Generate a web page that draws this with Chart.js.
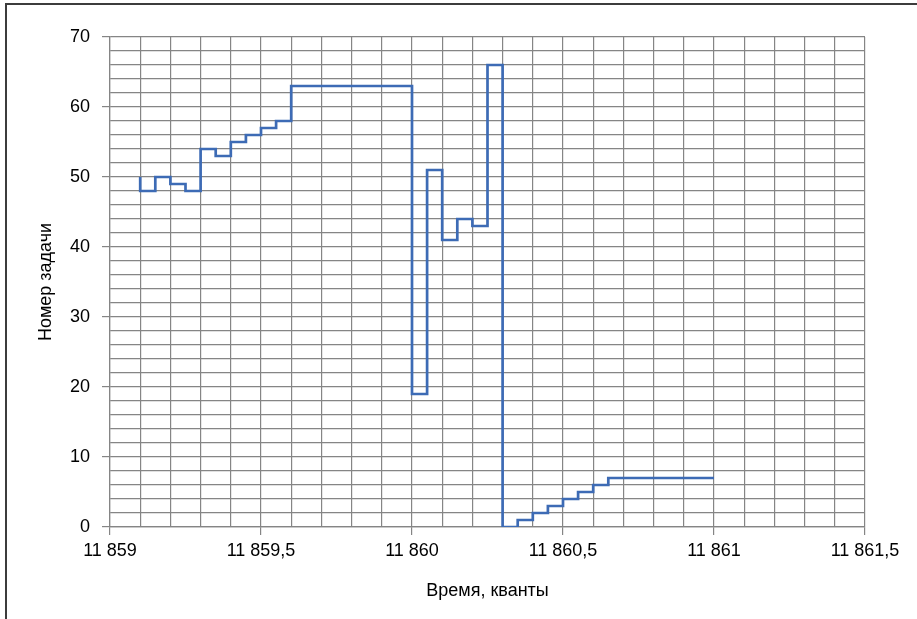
<!DOCTYPE html>
<html>
<head>
<meta charset="utf-8">
<script src="https://cdn.jsdelivr.net/npm/chart.js@4/dist/chart.umd.min.js"></script>
<style>
  html, body { margin: 0; padding: 0; background: #ffffff; }
  #wrap { position: relative; width: 917px; height: 619px; }
</style>
</head>
<body>
<div id="wrap"><canvas id="c" width="917" height="619"></canvas></div>
<script>
// Time (end of each interval, quanta) and task number held during that interval
const times = [11859.1, 11859.15, 11859.2, 11859.25, 11859.3, 11859.35, 11859.4, 11859.45,
               11859.5, 11859.55, 11859.6, 11860.0, 11860.05, 11860.1, 11860.15, 11860.2,
               11860.25, 11860.3, 11860.35, 11860.4, 11860.45, 11860.5, 11860.55, 11860.6,
               11860.65, 11861.0];
const taskNo = [50, 48, 50, 49, 48, 54, 53, 55, 56, 57, 58, 63, 19, 51, 41, 44, 43, 66,
                0, 1, 2, 3, 4, 5, 6, 7];

const xMin = 11859, xMax = 11861.5, xStep = 0.1, xMajor = 0.5;
const yMin = 0, yMax = 70, yStep = 2, yMajor = 10;
const xTitle = 'Время, кванты';
const yTitle = 'Номер задачи';

const FONT = "'Liberation Sans', Arial, sans-serif";
const GRID = '#858585';

function fmtRu(v) {
  const r = Math.round(v * 10) / 10;
  let [ip, dp] = r.toFixed(1).split('.');
  ip = ip.replace(/\B(?=(\d{3})+(?!\d))/g, ' ');
  return dp === '0' ? ip : ip + ',' + dp;
}
const isMajor = (v, m) => Math.abs(v / m - Math.round(v / m)) < 1e-6;

const framePlugin = {
  id: 'frame',
  beforeDraw(chart) {
    const ctx = chart.ctx;
    ctx.save();
    ctx.fillStyle = '#ffffff';
    ctx.fillRect(0, 0, chart.width, chart.height);
    ctx.restore();
  },
  afterDraw(chart) {
    const ctx = chart.ctx;
    ctx.save();
    ctx.fillStyle = '#3c3c3c';
    ctx.fillRect(5, 3, chart.width - 5, 2);
    ctx.fillRect(5, 3, 2, chart.height - 3);
    ctx.restore();
  }
};

new Chart(document.getElementById('c'), {
  type: 'line',
  data: {
    datasets: [{
      data: times.map((t, i) => ({ x: t, y: taskNo[i] })),
      stepped: 'after',
      borderColor: '#3d6bb5',
      borderWidth: 2.7,
      pointRadius: 0,
      fill: false
    }]
  },
  options: {
    responsive: false,
    animation: false,
    events: [],
    layout: { padding: { top: 37, right: 52, left: 0, bottom: 0 } },
    plugins: { legend: { display: false }, tooltip: { enabled: false } },
    scales: {
      x: {
        type: 'linear',
        min: xMin, max: xMax,
        ticks: {
          stepSize: xStep,
          autoSkip: false,
          maxRotation: 0,
          padding: 5,
          color: '#000',
          font: { family: FONT, size: 18 },
          callback: v => isMajor(v, xMajor) ? fmtRu(v) : ''
        },
        grid: {
          color: GRID, lineWidth: 1.2, tickLength: 8,
          tickColor: c => (c.tick && isMajor(c.tick.value, xMajor)) ? GRID : 'rgba(0,0,0,0)'
        },
        border: { display: true, color: GRID, width: 1.2 },
        title: {
          display: true, text: xTitle, color: '#000',
          font: { family: FONT, size: 18 },
          padding: { top: 0, bottom: 17 }
        },
        afterFit: s => { s.height = 92; }
      },
      y: {
        min: yMin, max: yMax,
        ticks: {
          stepSize: yStep,
          autoSkip: false,
          padding: 12,
          color: '#000',
          font: { family: FONT, size: 18 },
          callback: v => isMajor(v, yMajor) ? String(v) : ''
        },
        grid: {
          color: GRID, lineWidth: 1.2, tickLength: 8,
          tickColor: c => (c.tick && isMajor(c.tick.value, yMajor)) ? GRID : 'rgba(0,0,0,0)'
        },
        border: { display: true, color: GRID, width: 1.2 },
        title: {
          display: true, text: yTitle, color: '#000',
          font: { family: FONT, size: 18 },
          padding: { top: 35, bottom: 0 }
        },
        afterFit: s => { s.width = 110; }
      }
    }
  },
  plugins: [framePlugin]
});
</script>
</body>
</html>
